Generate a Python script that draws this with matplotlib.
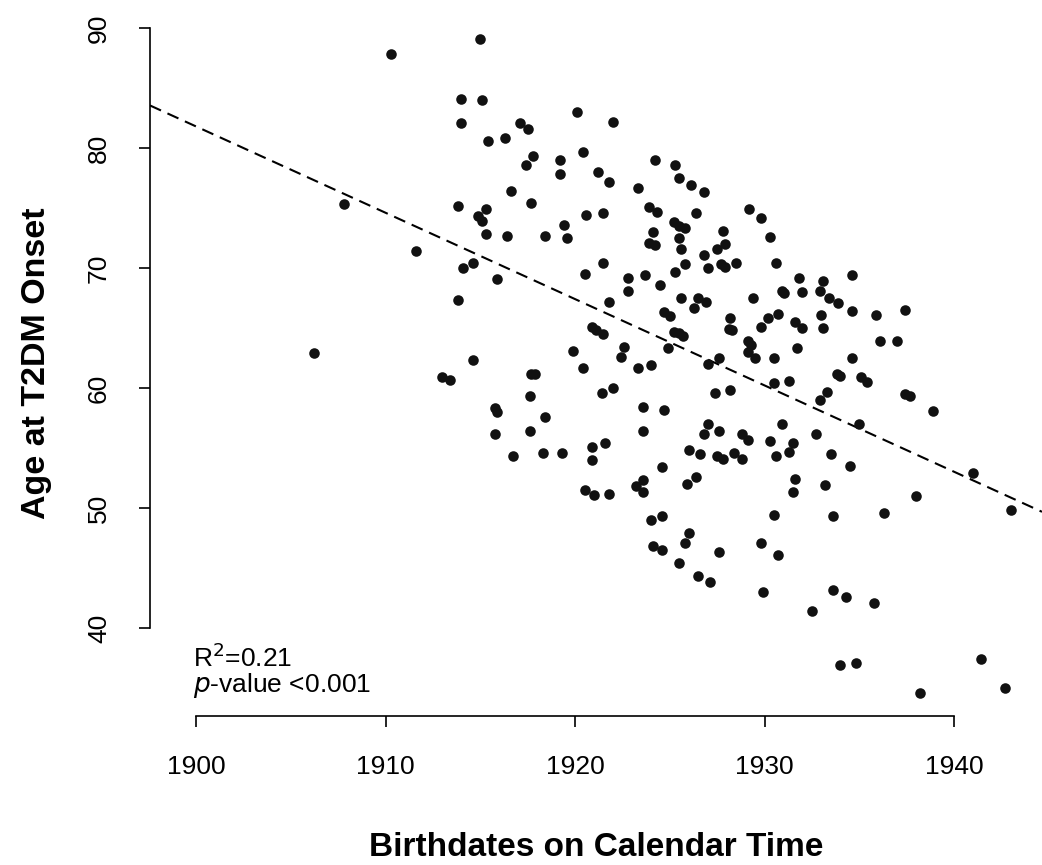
import numpy as np
import matplotlib
matplotlib.use("Agg")
import matplotlib.pyplot as plt

plt.rcParams['font.family'] = ['Liberation Sans', 'DejaVu Sans']

# birth year vs. age at type 2 diabetes onset
birth_year = [
    1910.3, 1907.8, 1911.6, 1906.2,
    1915.0, 1914.0, 1915.1, 1920.1, 1922.0, 1914.0, 1917.1, 1917.5, 1915.4, 1916.3,
    1920.4, 1917.8, 1917.4, 1919.2, 1919.2, 1921.2, 1921.8, 1916.6, 1913.8, 1915.3,
    1917.7, 1914.9, 1915.1, 1920.6, 1921.5, 1919.4, 1915.3, 1916.4, 1918.4, 1919.6,
    1924.2, 1925.3, 1925.5, 1923.3, 1926.1, 1926.8, 1923.9, 1924.3, 1926.4, 1929.2,
    1929.8, 1925.2, 1925.5, 1925.8, 1924.1, 1927.8, 1930.3, 1925.5, 1923.9, 1924.2,
    1927.9, 1925.6, 1927.5,
    1914.1, 1914.6, 1915.9, 1913.8, 1921.5, 1920.5, 1922.8, 1922.8, 1921.8, 1920.9,
    1921.1, 1921.5, 1919.9, 1922.6, 1922.4, 1914.6, 1920.4, 1913.0, 1913.4, 1917.7,
    1917.9, 1921.4, 1922.0, 1917.6, 1915.8, 1915.9, 1918.4, 1915.8, 1917.6, 1920.9,
    1921.6, 1916.7, 1918.3, 1919.3, 1920.9, 1920.5, 1921.0, 1921.8,
    1926.8, 1925.8, 1925.3, 1927.0, 1927.7, 1927.9, 1928.5, 1930.6, 1923.7, 1924.5,
    1925.6, 1926.5, 1926.9, 1926.3, 1929.4, 1931.8, 1933.1, 1930.9, 1931.0, 1932.0,
    1932.9, 1933.4, 1924.7, 1925.0, 1928.2, 1928.1, 1928.3, 1930.2, 1930.7, 1929.8,
    1931.6, 1932.0, 1933.0, 1933.1, 1925.2, 1925.5, 1925.7, 1924.9, 1929.1, 1929.3,
    1929.1, 1929.5, 1931.7, 1930.5, 1923.3, 1924.0, 1927.0, 1927.6, 1930.5, 1931.3,
    1933.3, 1932.9, 1927.4, 1928.2, 1923.6, 1924.7, 1923.6, 1927.0, 1926.8, 1927.6,
    1928.8, 1929.1, 1930.9, 1930.3, 1931.5, 1932.7, 1926.0, 1926.6, 1927.5, 1927.8,
    1928.4, 1928.8, 1930.6, 1931.3, 1933.5, 1924.6,
    1923.6, 1923.2, 1923.6, 1926.4, 1925.9, 1931.6, 1931.5, 1933.2, 1924.0, 1924.6,
    1930.5, 1933.6, 1926.0, 1925.8, 1924.1, 1924.6, 1927.6, 1929.8, 1930.7, 1925.5,
    1926.5, 1927.1, 1929.9, 1933.6, 1932.5,
    1934.6, 1933.9, 1934.6, 1935.9, 1937.4, 1936.1, 1937.0, 1934.6, 1933.8, 1934.0,
    1935.1, 1935.4, 1937.4, 1937.7, 1938.9, 1935.0, 1934.5,
    1941.0, 1938.0, 1943.0, 1936.3, 1934.3, 1935.8, 1934.0, 1934.8, 1941.4, 1938.2,
    1942.7,
]
age_onset = [
    87.8, 75.3, 71.4, 62.9,
    89.1, 84.1, 84.0, 83.0, 82.2, 82.1, 82.1, 81.6, 80.6, 80.8,
    79.7, 79.3, 78.6, 79.0, 77.8, 78.0, 77.2, 76.4, 75.2, 74.9,
    75.4, 74.3, 73.9, 74.4, 74.6, 73.6, 72.8, 72.7, 72.7, 72.5,
    79.0, 78.6, 77.5, 76.7, 76.9, 76.3, 75.1, 74.7, 74.6, 74.9,
    74.2, 73.8, 73.5, 73.3, 73.0, 73.1, 72.6, 72.5, 72.1, 71.9,
    72.0, 71.6, 71.6,
    70.0, 70.4, 69.1, 67.3, 70.4, 69.5, 69.2, 68.1, 67.2, 65.1,
    64.8, 64.5, 63.1, 63.4, 62.6, 62.3, 61.7, 60.9, 60.7, 61.2,
    61.2, 59.6, 60.0, 59.3, 58.3, 58.0, 57.6, 56.2, 56.4, 55.1,
    55.4, 54.3, 54.6, 54.6, 54.0, 51.5, 51.1, 51.2,
    71.1, 70.3, 69.7, 70.0, 70.3, 70.1, 70.4, 70.4, 69.4, 68.6,
    67.5, 67.5, 67.2, 66.7, 67.5, 69.2, 68.9, 68.1, 67.9, 68.0,
    68.1, 67.5, 66.3, 66.0, 65.8, 64.9, 64.8, 65.8, 66.2, 65.1,
    65.5, 65.0, 66.1, 65.0, 64.7, 64.6, 64.3, 63.3, 63.9, 63.6,
    63.0, 62.5, 63.3, 62.5, 61.7, 61.9, 62.0, 62.5, 60.4, 60.6,
    59.7, 59.0, 59.6, 59.8, 58.4, 58.2, 56.4, 57.0, 56.2, 56.4,
    56.2, 55.7, 57.0, 55.6, 55.4, 56.2, 54.8, 54.5, 54.3, 54.1,
    54.6, 54.1, 54.3, 54.7, 54.5, 53.4,
    52.3, 51.8, 51.3, 52.6, 52.0, 52.4, 51.3, 51.9, 49.0, 49.3,
    49.4, 49.3, 47.9, 47.1, 46.8, 46.5, 46.3, 47.1, 46.1, 45.4,
    44.3, 43.8, 43.0, 43.2, 41.4,
    69.4, 67.1, 66.4, 66.1, 66.5, 63.9, 63.9, 62.5, 61.2, 61.0,
    60.9, 60.5, 59.5, 59.3, 58.1, 57.0, 53.5,
    52.9, 51.0, 49.8, 49.6, 42.6, 42.1, 36.9, 37.1, 37.4, 34.6,
    35.0,
]

# fitted linear trend (age = intercept + slope * year)
fit_intercept = 1448.66
fit_slope = -0.7194

x_ticks = [1900, 1910, 1920, 1930, 1940]
y_ticks = [40, 50, 60, 70, 80, 90]

fig = plt.figure(figsize=(10.42, 8.65), dpi=100)
ax = fig.add_axes([150 / 1042, 149 / 865, 892 / 1042, 705 / 865])

xlim = (1897.57, 1944.64)
ylim = (32.67, 91.42)

ax.plot(birth_year, age_onset, 'o', color='#111111', markersize=7.6,
        markeredgewidth=0, zorder=3)

xs = np.array(xlim)
ax.plot(xs, fit_intercept + fit_slope * xs, color='black', lw=1.5,
        linestyle=(0, (5.8, 3.4)), zorder=2)

ax.set_xlim(*xlim)
ax.set_ylim(*ylim)

for side in ['top', 'right']:
    ax.spines[side].set_visible(False)
ax.spines['left'].set_bounds(40, 90)
ax.spines['bottom'].set_bounds(1900, 1940)
for side in ['left', 'bottom']:
    ax.spines[side].set_linewidth(1.2)

ax.set_xticks(x_ticks)
ax.set_yticks(y_ticks)
ax.set_yticklabels([str(t) for t in y_ticks], rotation=90, va='center')
ax.tick_params(axis='both', length=8, width=1.2, labelsize=19, pad=20,
               colors='black')

ax.set_xlabel('Birthdates on Calendar Time', fontsize=24, fontweight='bold',
              labelpad=38)
ax.set_ylabel('Age at T2DM Onset', fontsize=24.5, fontweight='bold', labelpad=25)

ax.text(1899.84, 36.75, r'R$^2$=0.21', fontsize=19, va='baseline', ha='left')
ax.text(1899.84, 34.67, r'$\it{p}$-value <0.001', fontsize=19,
        va='baseline', ha='left')

fig.savefig('out.png', dpi=100)
